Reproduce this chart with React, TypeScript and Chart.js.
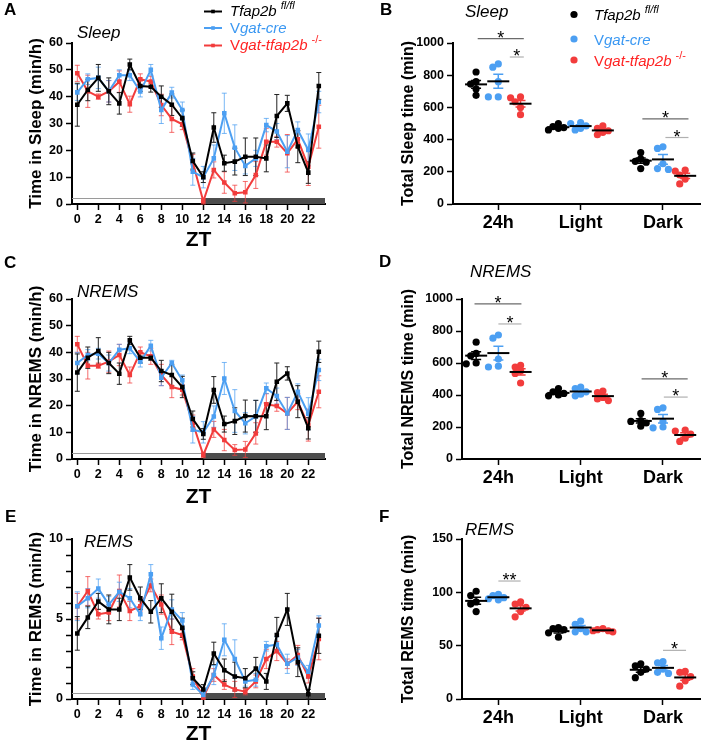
import React, { useEffect, useRef } from 'react';
import { Chart, registerables } from 'chart.js';

Chart.register(...registerables);

const FONT = '"Liberation Sans", Arial, Helvetica, sans-serif';
Chart.defaults.font.family = FONT;
Chart.defaults.color = '#000';

const BLACK = '#000000';
const BLUE = '#4c9ff2';
const RED = '#f23c3c';
const BLUE_ERR = 'rgba(76,159,242,0.75)';
const RED_ERR = 'rgba(242,60,60,0.75)';
const BLUE_TXT = '#3b98f2';
const RED_TXT = '#ff2424';

// ---------------- DATA ----------------
const ztHours = [0, 1, 2, 3, 4, 5, 6, 7, 8, 9, 10, 11, 12, 13, 14, 15, 16, 17, 18, 19, 20, 21, 22, 23];
const ztTicks = [0, 2, 4, 6, 8, 10, 12, 14, 16, 18, 20, 22];
const periods = ['24h', 'Light', 'Dark'];

// Sleep (min/h)
const sleepFl = [37, 42.5, 47, 42, 37.5, 52, 44, 43.7, 40, 37, 32, 16, 10, 28.5, 15.2, 15.8, 17.6, 17.6, 17, 32.8, 37.5, 21.4, 11.7, 44];
const sleepFlErr = [8, 4, 5, 5, 4, 2, 2, 2, 4, 4, 3, 3, 2, 5.5, 3, 5, 7, 7, 5, 8, 3, 6, 4, 5];
const sleepCre = [41.6, 46.5, 47, 42, 48, 48, 41.9, 50, 35, 41.5, 35, 12, 10, 17, 33.8, 21, 14.2, 17, 29.4, 27, 19.5, 27.6, 20.1, 38];
const sleepCreErr = [3, 2, 4, 4, 2, 2, 2, 2, 5, 2, 3, 5, 4, 5, 7.5, 8.5, 3, 3, 2.5, 3, 6, 3, 6, 4];
const sleepKo = [48.7, 42, 40, 42, 45.6, 37.2, 46.5, 45.6, 36.9, 31.7, 29.7, 15.5, 1, 12.7, 8, 4, 4.4, 10.8, 23.2, 23.2, 18.9, 24.1, 13.9, 28.8];
const sleepKoErr = [3, 6, 1, 4, 4, 3, 2, 2, 4, 5, 2, 3, 1, 3, 4, 3, 4, 5, 5, 2, 7, 3, 7, 8];

// NREMS (min/h)
const nremFl = [32.4, 38, 40.5, 36, 32, 44.5, 38, 38, 33, 31.5, 27, 15, 9.4, 25.9, 13.1, 14.2, 16.1, 16, 16, 29, 32.1, 21.5, 11.5, 40.2];
const nremFlErr = [7, 4, 5, 4, 4, 1.5, 2, 1, 4, 4, 4, 3, 2, 5, 3, 5, 6, 6, 5, 7, 2.5, 6, 4, 4];
const nremCre = [36, 39, 39.5, 36, 41, 41.5, 36.5, 42.5, 30.5, 36, 29.5, 11, 10, 15.9, 30.2, 18, 13.4, 16, 26.5, 23.6, 17.1, 25.2, 17, 33.4];
const nremCreErr = [4, 2, 2, 3, 2, 2, 2, 2, 3, 1, 2, 5, 4, 4, 6, 8, 4, 6, 2, 3, 6, 3, 6, 4];
const nremKo = [43, 35, 35, 36.5, 39, 31.5, 40, 38.5, 31.5, 27, 26, 13.5, 1.5, 11.1, 7.1, 3.4, 3.6, 9.6, 20.5, 19.9, 17.1, 21.5, 12.7, 25.2];
const nremKoErr = [3, 5, 1, 4, 4, 3, 2, 3, 4, 4, 2, 3, 1, 3, 4, 2, 3, 4, 4, 2, 6, 3, 6, 6];

// REMS (min/h)
const remFl = [4.1, 5.1, 6.1, 5.6, 5.6, 7.6, 6.3, 5.45, 6.3, 5.45, 4.45, 1.3, 0.6, 2.85, 1.8, 1.4, 1.3, 1.9, 1.1, 4.0, 5.6, 2.3, 0.3, 3.95];
const remFlErr = [1.05, 0.7, 0.5, 0.9, 0.7, 0.8, 0.7, 0.7, 0.9, 1.1, 0.6, 0.4, 0.3, 0.7, 0.7, 0.9, 0.6, 0.7, 0.5, 1.1, 1.0, 0.9, 0.3, 1.1];
const remCre = [5.8, 6.3, 6.9, 5.9, 6.7, 6.3, 5.3, 7.8, 3.8, 5.6, 4.9, 0.9, 0.25, 1.5, 3.7, 2.5, 1.1, 1.2, 3.3, 3.4, 2.2, 2.6, 1.7, 4.6];
const remCreErr = [0.9, 0.6, 0.6, 0.5, 0.6, 0.6, 0.4, 0.6, 0.7, 0.6, 0.5, 0.3, 0.2, 0.6, 1.0, 1.2, 0.3, 0.4, 0.3, 0.5, 0.6, 0.5, 0.4, 0.6];
const remKo = [5.8, 6.75, 5.3, 5.4, 6.75, 5.5, 5.8, 7.1, 5.9, 4.2, 4.0, 1.4, 0.1, 1.5, 0.9, 0.6, 0.46, 1.1, 2.5, 3.0, 2.2, 2.75, 1.4, 3.75];
const remKoErr = [0.8, 0.9, 0.3, 0.5, 1.0, 0.6, 0.3, 0.4, 0.6, 0.8, 0.3, 0.5, 0.2, 0.4, 0.3, 0.5, 0.2, 0.4, 0.6, 0.6, 0.3, 0.6, 0.4, 1.3];

// Total time per animal (min): [24h, Light, Dark]
const sleepTotFl = [[820, 760, 745, 715, 675], [500, 480, 475, 470, 460], [320, 280, 265, 260, 220]];
const sleepTotCre = [[870, 850, 760, 665, 665], [505, 500, 485, 470, 460], [355, 345, 250, 220, 215]];
const sleepTotKo = [[665, 660, 635, 600, 555], [485, 470, 455, 445, 430], [210, 205, 180, 155, 125]];

const nremTotFl = [[730, 660, 645, 600, 595], [440, 420, 410, 400, 395], [285, 240, 235, 225, 205]];
const nremTotCre = [[775, 755, 625, 580, 575], [450, 440, 420, 405, 395], [320, 310, 235, 200, 195]];
const nremTotKo = [[585, 575, 550, 535, 475], [425, 415, 385, 375, 365], [180, 175, 155, 130, 110]];

const remTotFl = [[101, 97, 91, 89, 82], [67, 66, 65, 62, 58], [33, 31, 28, 25, 20]];
const remTotCre = [[98, 97, 95, 94, 93], [73, 70, 66, 63, 63], [35, 34, 28, 25, 24]];
const remTotKo = [[91, 89, 86, 82, 77], [66, 65, 64, 64, 63], [26, 25, 21, 17, 12]];

// significance annotations: category index, span (offsets in category units), height (data units), label
const sleepSig = [
  { cat: 1, from: -0.25, to: 0.31, y: 1027, label: '*', dark: true },
  { cat: 1, from: 0.14, to: 0.31, y: 913, label: '*', dark: false },
  { cat: 3, from: -0.25, to: 0.31, y: 529, label: '*', dark: true },
  { cat: 3, from: 0.03, to: 0.31, y: 413, label: '*', dark: false },
];
const nremSig = [
  { cat: 1, from: -0.29, to: 0.28, y: 969, label: '*', dark: true },
  { cat: 1, from: 0.0, to: 0.28, y: 844, label: '*', dark: false },
  { cat: 3, from: -0.26, to: 0.3, y: 501, label: '*', dark: true },
  { cat: 3, from: 0.01, to: 0.3, y: 387, label: '*', dark: false },
];
const remSig = [
  { cat: 1, from: 0.0, to: 0.27, y: 110.6, label: '**', dark: false },
  { cat: 3, from: 0.0, to: 0.28, y: 45.6, label: '*', dark: false },
];

// ---------------- HELPERS ----------------
type Run = { t: string; i?: boolean; sup?: boolean };
const legendRows: { color: string; runs: Run[] }[] = [
  { color: BLACK, runs: [{ t: 'Tfap2b', i: true }, { t: 'fl/fl', i: true, sup: true }] },
  { color: BLUE_TXT, runs: [{ t: 'V' }, { t: 'gat-cre', i: true }] },
  { color: RED_TXT, runs: [{ t: 'V' }, { t: 'gat-tfap2b', i: true }, { t: '-/-', sup: true }] },
];
const legendMarkColors = [BLACK, BLUE, RED];

function drawRuns(ctx: CanvasRenderingContext2D, runs: Run[], x: number, y: number, size: number, color: string) {
  let cx = x;
  ctx.fillStyle = color;
  ctx.textBaseline = 'alphabetic';
  ctx.textAlign = 'left';
  for (const r of runs) {
    const s = r.sup ? 11 : size;
    ctx.font = `${r.i ? 'italic ' : ''}${s}px ${FONT}`;
    if (r.sup) cx += 4;
    ctx.fillText(r.t, cx, r.sup ? y - 7 : y);
    cx += ctx.measureText(r.t).width;
  }
}

type Geom = { left: number; top: number; width: number; height: number; area: { l: number; t: number; r: number; b: number } };

type Decor = {
  letter: string; lx: number; ly: number;
  title: string; tx: number; ty: number;
  legend?: 'line' | 'dot';
};

function decorPlugin(d: Decor, g: Geom) {
  return {
    id: 'decor',
    afterDraw(chart: any) {
      const ctx = chart.ctx as CanvasRenderingContext2D;
      ctx.save();
      ctx.fillStyle = '#000';
      ctx.textBaseline = 'alphabetic';
      ctx.textAlign = 'left';
      ctx.font = `bold 17px ${FONT}`;
      ctx.fillText(d.letter, d.lx - g.left, d.ly - g.top);
      ctx.font = `italic 17px ${FONT}`;
      ctx.fillText(d.title, d.tx - g.left, d.ty - g.top);
      if (d.legend === 'line') {
        const ys = [16, 32.5, 50];
        legendRows.forEach((row, k) => {
          const y = ys[k] - g.top;
          const cy = y - 4.5;
          ctx.strokeStyle = legendMarkColors[k];
          ctx.lineWidth = 2;
          ctx.beginPath();
          ctx.moveTo(204 - g.left, cy);
          ctx.lineTo(222 - g.left, cy);
          ctx.stroke();
          ctx.fillStyle = legendMarkColors[k];
          ctx.fillRect(213 - g.left - 1.8, cy - 1.8, 3.6, 3.6);
          drawRuns(ctx, row.runs, 230 - g.left, y, 15, row.color);
        });
      } else if (d.legend === 'dot') {
        const ys = [20, 44.5, 65.5];
        legendRows.forEach((row, k) => {
          const y = ys[k] - g.top;
          ctx.fillStyle = legendMarkColors[k];
          ctx.beginPath();
          ctx.arc(574 - g.left, y - 5.5, 3.6, 0, Math.PI * 2);
          ctx.fill();
          drawRuns(ctx, row.runs, 594 - g.left, y, 15, row.color);
        });
      }
      ctx.restore();
    },
  };
}

function axisCommon(extra: any) {
  return {
    grid: { display: true, drawOnChartArea: false, drawTicks: true, tickLength: 6, tickWidth: 1.5, tickColor: '#000', color: '#000' },
    border: { display: true, color: '#000', width: 2 },
    ...extra,
  };
}

// ---------------- LINE PANELS ----------------
type Series = { values: number[]; errors: number[]; color: string; errColor: string };
type LinePanel = {
  geom: Geom; yMax: number; yStep: number; yLabelStep: number; yTitle: string;
  series: Series[]; decor: Decor;
};

function lineConfig(p: LinePanel) {
  const g = p.geom;
  const yW = g.area.l - g.left;
  const xH = g.top + g.height - g.area.b;
  const pxPerZt = 10.5;
  const xMin = -5.3 / pxPerZt;
  const xMax = xMin + (g.area.r - g.area.l) / pxPerZt;
  const errPlugin = {
    id: 'errbars',
    beforeDatasetsDraw(chart: any) {
      const ctx = chart.ctx as CanvasRenderingContext2D;
      const xs = chart.scales.x;
      const ys = chart.scales.y;
      const ca = chart.chartArea;
      ctx.save();
      // light/dark bar
      const x12 = xs.getPixelForValue(12);
      ctx.fillStyle = '#4d4d4d';
      ctx.fillRect(x12, ca.bottom - 6, ca.right - x12, 6);
      ctx.strokeStyle = '#9a9a9a';
      ctx.lineWidth = 1;
      ctx.beginPath();
      ctx.moveTo(ca.left, ca.bottom - 5.5);
      ctx.lineTo(x12, ca.bottom - 5.5);
      ctx.stroke();
      // error bars
      for (let di = p.series.length - 1; di >= 0; di--) {
        const s = p.series[di];
        ctx.strokeStyle = s.errColor;
        ctx.lineWidth = 1;
        s.values.forEach((v, j) => {
          const x = xs.getPixelForValue(ztHours[j]);
          const yTop = ys.getPixelForValue(v + s.errors[j]);
          const yBot = ys.getPixelForValue(Math.max(0, v - s.errors[j]));
          ctx.beginPath();
          ctx.moveTo(x, yTop);
          ctx.lineTo(x, yBot);
          ctx.moveTo(x - 2.5, yTop);
          ctx.lineTo(x + 2.5, yTop);
          ctx.moveTo(x - 2.5, yBot);
          ctx.lineTo(x + 2.5, yBot);
          ctx.stroke();
        });
      }
      ctx.restore();
    },
  };
  return {
    type: 'line',
    data: {
      datasets: p.series.map((s) => ({
        data: ztHours.map((h, i) => ({ x: h, y: s.values[i] })),
        borderColor: s.color,
        backgroundColor: s.color,
        borderWidth: 2,
        pointRadius: 1.8,
        pointStyle: 'rect',
        tension: 0,
        clip: false,
      })),
    },
    options: {
      animation: false,
      responsive: false,
      events: [],
      layout: { padding: { left: 0, top: g.area.t - g.top, right: g.left + g.width - g.area.r, bottom: 0 } },
      plugins: { legend: { display: false }, tooltip: { enabled: false } },
      scales: {
        x: axisCommon({
          type: 'linear',
          min: xMin,
          max: xMax,
          afterBuildTicks: (s: any) => { s.ticks = ztTicks.map((v) => ({ value: v })); },
          ticks: {
            autoSkip: false, maxRotation: 0, minRotation: 0,
            font: { size: 12.5, weight: 'bold' }, color: '#000', padding: 2,
            callback: (v: number) => String(v),
          },
          title: { display: true, text: 'ZT', font: { size: 21, weight: 'bold' }, color: '#000', padding: { top: 0, bottom: 0 } },
          afterFit: (s: any) => { s.height = xH; },
        }),
        y: axisCommon({
          type: 'linear',
          min: 0,
          max: p.yMax,
          afterBuildTicks: (s: any) => {
            const t = [];
            for (let v = 0; v <= p.yMax + 1e-9; v += p.yStep) t.push({ value: v });
            s.ticks = t;
          },
          ticks: {
            autoSkip: false,
            font: { size: 12.5, weight: 'bold' },
            color: '#000',
            padding: 3,
            callback: (v: number) => (Math.abs(v % p.yLabelStep) < 1e-6 ? String(v) : ''),
          },
          title: { display: true, text: p.yTitle, font: { size: 17, weight: 'bold' }, color: '#000', padding: { top: 36 - 10.2, bottom: 0 } },
          afterFit: (s: any) => { s.width = yW; },
        }),
      },
    },
    plugins: [errPlugin, decorPlugin(p.decor, g)],
  };
}

// ---------------- DOT PANELS ----------------
type DotPanel = {
  geom: Geom; yMax: number; yStep: number; yTitle: string; xMin: number;
  groups: { values: number[][]; color: string }[];
  sig: { cat: number; from: number; to: number; y: number; label: string; dark: boolean }[];
  decor: Decor;
};

const groupOffsets = [-0.27, 0, 0.27];

function swarm(vals: number[], pxPerUnit: number, catPx: number): number[] {
  const minDist = 5.6;
  const order = vals.map((_, i) => i).sort((a, b) => vals[b] - vals[a]);
  const placed: { x: number; y: number }[] = [];
  const out = vals.map(() => 0);
  const cands = [0, -5.5, 5.5, -10, 10];
  for (const i of order) {
    const y = vals[i] * pxPerUnit;
    let best = cands[0];
    let bestD = -1;
    let chosen: number | null = null;
    for (const c of cands) {
      const d = placed.length ? Math.min(...placed.map((q) => Math.hypot(q.x - c, q.y - y))) : Infinity;
      if (d >= minDist) { chosen = c; break; }
      if (d > bestD) { bestD = d; best = c; }
    }
    const x = chosen === null ? best : chosen;
    placed.push({ x, y });
    out[i] = x / catPx;
  }
  return out;
}

function dotConfig(p: DotPanel) {
  const g = p.geom;
  const yW = g.area.l - g.left;
  const xH = g.top + g.height - g.area.b;
  const plotH = g.area.b - g.area.t;
  const catPx = 83;
  const xMax = p.xMin + (g.area.r - g.area.l) / catPx;
  const datasets = p.groups.map((grp, gi) => {
    const pts: { x: number; y: number }[] = [];
    grp.values.forEach((vals, ci) => {
      const offs = swarm(vals, plotH / p.yMax, catPx);
      vals.forEach((v, k) => pts.push({ x: ci + 1 + groupOffsets[gi] + offs[k], y: v }));
    });
    return {
      type: 'scatter',
      data: pts,
      backgroundColor: grp.color,
      borderWidth: 0,
      pointRadius: 3.6,
      clip: false,
    };
  });
  const statPlugin = {
    id: 'stats',
    afterDatasetsDraw(chart: any) {
      const ctx = chart.ctx as CanvasRenderingContext2D;
      const xs = chart.scales.x;
      const ys = chart.scales.y;
      ctx.save();
      p.groups.forEach((grp, gi) => {
        grp.values.forEach((vals, ci) => {
          const n = vals.length;
          const mean = vals.reduce((a, b) => a + b, 0) / n;
          const sd = Math.sqrt(vals.reduce((a, b) => a + (b - mean) * (b - mean), 0) / (n - 1));
          const sem = sd / Math.sqrt(n);
          const x = xs.getPixelForValue(ci + 1 + groupOffsets[gi]);
          const ym = ys.getPixelForValue(mean);
          const y1 = ys.getPixelForValue(mean + sem);
          const y2 = ys.getPixelForValue(mean - sem);
          ctx.strokeStyle = grp.color;
          ctx.lineWidth = 1.5;
          ctx.beginPath();
          ctx.moveTo(x, y1); ctx.lineTo(x, y2);
          ctx.moveTo(x - 5, y1); ctx.lineTo(x + 5, y1);
          ctx.moveTo(x - 5, y2); ctx.lineTo(x + 5, y2);
          ctx.stroke();
          ctx.strokeStyle = '#000';
          ctx.lineWidth = 2;
          ctx.beginPath();
          ctx.moveTo(x - 11, ym); ctx.lineTo(x + 11, ym);
          ctx.stroke();
        });
      });
      p.sig.forEach((s) => {
        const xa = xs.getPixelForValue(s.cat + s.from);
        const xb = xs.getPixelForValue(s.cat + s.to);
        const y = ys.getPixelForValue(s.y);
        ctx.strokeStyle = s.dark ? '#6b6b6b' : '#b0b0b0';
        ctx.lineWidth = 1.2;
        ctx.beginPath();
        ctx.moveTo(xa, y); ctx.lineTo(xb, y);
        ctx.stroke();
        ctx.fillStyle = '#000';
        ctx.font = `18px ${FONT}`;
        ctx.textAlign = 'center';
        ctx.textBaseline = 'alphabetic';
        ctx.fillText(s.label, (xa + xb) / 2, y + 5);
      });
      ctx.restore();
    },
  };
  return {
    type: 'scatter',
    data: { datasets },
    options: {
      animation: false,
      responsive: false,
      events: [],
      layout: { padding: { left: 0, top: g.area.t - g.top, right: g.left + g.width - g.area.r, bottom: 0 } },
      plugins: { legend: { display: false }, tooltip: { enabled: false } },
      scales: {
        x: axisCommon({
          type: 'linear',
          min: p.xMin,
          max: xMax,
          afterBuildTicks: (s: any) => { s.ticks = periods.map((_, i) => ({ value: i + 1 })); },
          ticks: {
            autoSkip: false, maxRotation: 0, minRotation: 0,
            font: { size: 18, weight: 'bold' }, color: '#000', padding: 2,
            callback: (v: number) => periods[Math.round(v) - 1] ?? '',
          },
          title: { display: false },
          afterFit: (s: any) => { s.height = xH; },
        }),
        y: axisCommon({
          type: 'linear',
          min: 0,
          max: p.yMax,
          afterBuildTicks: (s: any) => {
            const t = [];
            for (let v = 0; v <= p.yMax + 1e-9; v += p.yStep) t.push({ value: v });
            s.ticks = t;
          },
          ticks: { autoSkip: false, font: { size: 12.5, weight: 'bold' }, color: '#000', padding: 3, callback: (v: number) => String(v) },
          title: { display: true, text: p.yTitle, font: { size: 16, weight: 'bold' }, color: '#000', padding: { top: 57 - 9.6, bottom: 0 } },
          afterFit: (s: any) => { s.width = yW; },
        }),
      },
    },
    plugins: [statPlugin, decorPlugin(p.decor, g)],
  };
}

// ---------------- PANEL SPECS ----------------
const panelA: LinePanel = {
  geom: { left: 0, top: 0, width: 352, height: 253, area: { l: 72, t: 43, r: 325, b: 204 } },
  yMax: 60, yStep: 10, yLabelStep: 10, yTitle: 'Time in Sleep (min/h)',
  series: [
    { values: sleepFl, errors: sleepFlErr, color: BLACK, errColor: '#222' },
    { values: sleepCre, errors: sleepCreErr, color: BLUE, errColor: BLUE_ERR },
    { values: sleepKo, errors: sleepKoErr, color: RED, errColor: RED_ERR },
  ],
  decor: { letter: 'A', lx: 4, ly: 15, title: 'Sleep', tx: 77, ty: 38, legend: 'line' },
};
const panelC: LinePanel = {
  geom: { left: 0, top: 250, width: 352, height: 260, area: { l: 72, t: 299, r: 325, b: 459 } },
  yMax: 60, yStep: 10, yLabelStep: 10, yTitle: 'Time in NREMS (min/h)',
  series: [
    { values: nremFl, errors: nremFlErr, color: BLACK, errColor: '#222' },
    { values: nremCre, errors: nremCreErr, color: BLUE, errColor: BLUE_ERR },
    { values: nremKo, errors: nremKoErr, color: RED, errColor: RED_ERR },
  ],
  decor: { letter: 'C', lx: 4, ly: 268, title: 'NREMS', tx: 77, ty: 297 },
};
const panelE: LinePanel = {
  geom: { left: 0, top: 497, width: 352, height: 250, area: { l: 72, t: 539, r: 325, b: 699 } },
  yMax: 10, yStep: 1, yLabelStep: 5, yTitle: 'Time in REMS (min/h)',
  series: [
    { values: remFl, errors: remFlErr, color: BLACK, errColor: '#222' },
    { values: remCre, errors: remCreErr, color: BLUE, errColor: BLUE_ERR },
    { values: remKo, errors: remKoErr, color: RED, errColor: RED_ERR },
  ],
  decor: { letter: 'E', lx: 5, ly: 522, title: 'REMS', tx: 84, ty: 547 },
};
const panelB: DotPanel = {
  geom: { left: 352, top: 0, width: 352, height: 250, area: { l: 453, t: 43, r: 702, b: 204 } },
  yMax: 1000, yStep: 200, yTitle: 'Total Sleep time (min)', xMin: 0.45,
  groups: [
    { values: sleepTotFl, color: BLACK },
    { values: sleepTotCre, color: BLUE },
    { values: sleepTotKo, color: RED },
  ],
  sig: sleepSig,
  decor: { letter: 'B', lx: 380, ly: 15, title: 'Sleep', tx: 465, ty: 17, legend: 'dot' },
};
const panelD: DotPanel = {
  geom: { left: 352, top: 250, width: 352, height: 260, area: { l: 462, t: 299, r: 702, b: 459 } },
  yMax: 1000, yStep: 200, yTitle: 'Total NREMS time (min)', xMin: 0.558,
  groups: [
    { values: nremTotFl, color: BLACK },
    { values: nremTotCre, color: BLUE },
    { values: nremTotKo, color: RED },
  ],
  sig: nremSig,
  decor: { letter: 'D', lx: 379, ly: 267, title: 'NREMS', tx: 470, ty: 277 },
};
const panelF: DotPanel = {
  geom: { left: 352, top: 497, width: 352, height: 250, area: { l: 462, t: 539, r: 702, b: 699 } },
  yMax: 150, yStep: 50, yTitle: 'Total REMS time (min)', xMin: 0.558,
  groups: [
    { values: remTotFl, color: BLACK },
    { values: remTotCre, color: BLUE },
    { values: remTotKo, color: RED },
  ],
  sig: remSig,
  decor: { letter: 'F', lx: 379, ly: 522, title: 'REMS', tx: 465, ty: 535 },
};

function ChartCanvas({ geom, make }: { geom: Geom; make: () => any }) {
  const ref = useRef<HTMLCanvasElement | null>(null);
  useEffect(() => {
    if (!ref.current) return;
    const chart = new Chart(ref.current, make());
    return () => chart.destroy();
  }, []);
  return (
    <canvas
      ref={ref}
      width={geom.width}
      height={geom.height}
      style={{ position: 'absolute', left: geom.left, top: geom.top, width: geom.width, height: geom.height }}
    />
  );
}

export default function App() {
  useEffect(() => {
    document.body.style.margin = '0';
    document.body.style.background = '#fff';
  }, []);
  return (
    <div style={{ position: 'absolute', left: 0, top: 0, width: 704, height: 747, background: '#fff', overflow: 'hidden' }}>
      <ChartCanvas geom={panelA.geom} make={() => lineConfig(panelA)} />
      <ChartCanvas geom={panelC.geom} make={() => lineConfig(panelC)} />
      <ChartCanvas geom={panelE.geom} make={() => lineConfig(panelE)} />
      <ChartCanvas geom={panelB.geom} make={() => dotConfig(panelB)} />
      <ChartCanvas geom={panelD.geom} make={() => dotConfig(panelD)} />
      <ChartCanvas geom={panelF.geom} make={() => dotConfig(panelF)} />
    </div>
  );
}
